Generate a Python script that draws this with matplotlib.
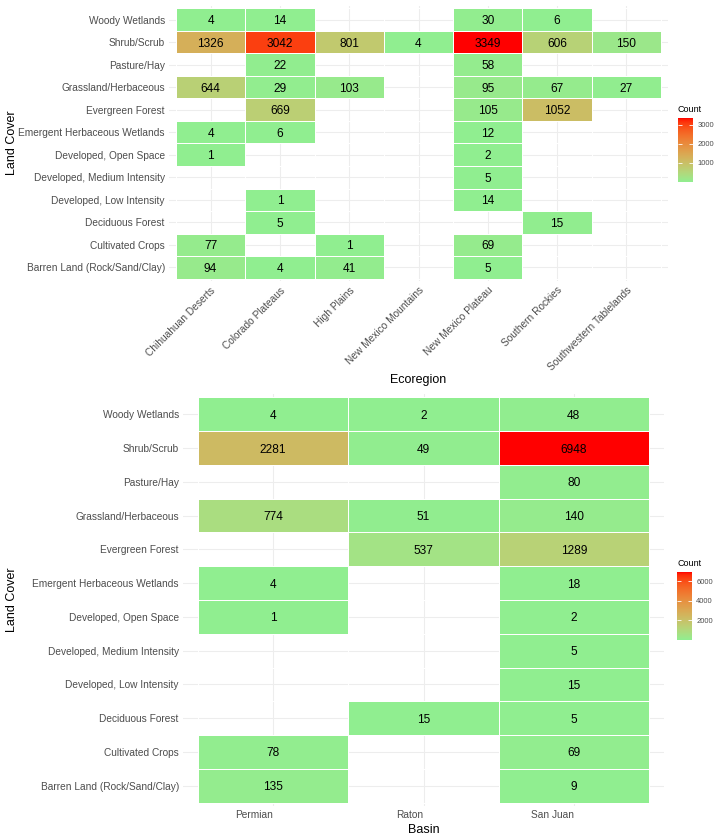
import numpy as np
import matplotlib
matplotlib.use("Agg")
import matplotlib.pyplot as plt
from matplotlib.colors import ListedColormap, Normalize

plt.rcParams['font.family'] = ['Liberation Sans', 'DejaVu Sans']

land_cover = ["Barren Land (Rock/Sand/Clay)", "Cultivated Crops", "Deciduous Forest",
              "Developed, Low Intensity", "Developed, Medium Intensity", "Developed, Open Space",
              "Emergent Herbaceous Wetlands", "Evergreen Forest", "Grassland/Herbaceous",
              "Pasture/Hay", "Shrub/Scrub", "Woody Wetlands"]

ecoregions = ["Chihuahuan Deserts", "Colorado Plateaus", "High Plains", "New Mexico Mountains",
              "New Mexico Plateau", "Southern Rockies", "Southwestern Tablelands"]
# values per ecoregion, ordered as land_cover (None = no tile)
chihuahuan_deserts = [94, 77, None, None, None, 1, 4, None, 644, None, 1326, 4]
colorado_plateaus = [4, None, 5, 1, None, None, 6, 669, 29, 22, 3042, 14]
high_plains = [41, 1, None, None, None, None, None, None, 103, None, 801, None]
new_mexico_mountains = [None, None, None, None, None, None, None, None, None, None, 4, None]
new_mexico_plateau = [5, 69, None, 14, 5, 2, 12, 105, 95, 58, 3349, 30]
southern_rockies = [None, None, 15, None, None, None, None, 1052, 67, None, 606, 6]
southwestern_tablelands = [None, None, None, None, None, None, None, None, 27, None, 150, None]

basins = ["Permian", "Raton", "San Juan"]
permian = [135, 78, None, None, None, 1, 4, None, 774, None, 2281, 4]
raton = [None, None, 15, None, None, None, None, 537, 51, None, 49, 2]
san_juan = [9, 69, 5, 15, 5, 2, 18, 1289, 140, 80, 6948, 48]

eco_cols = [chihuahuan_deserts, colorado_plateaus, high_plains, new_mexico_mountains,
            new_mexico_plateau, southern_rockies, southwestern_tablelands]
basin_cols = [permian, raton, san_juan]


# ---- Lab gradient lightgreen -> red (like ggplot scale_fill_gradient) ----
def srgb_to_lab(rgb):
    rgb = np.asarray(rgb, float)
    lin = np.where(rgb <= 0.04045, rgb / 12.92, ((rgb + 0.055) / 1.055) ** 2.4)
    M = np.array([[0.4124564, 0.3575761, 0.1804375],
                  [0.2126729, 0.7151522, 0.0721750],
                  [0.0193339, 0.1191920, 0.9503041]])
    xyz = M @ lin
    white = np.array([0.95047, 1.0, 1.08883])
    t = xyz / white
    f = np.where(t > (6 / 29) ** 3, np.cbrt(t), t / (3 * (6 / 29) ** 2) + 4 / 29)
    return np.array([116 * f[1] - 16, 500 * (f[0] - f[1]), 200 * (f[1] - f[2])])


def lab_to_srgb(lab):
    L, a, b = lab
    fy = (L + 16) / 116
    fx = fy + a / 500
    fz = fy - b / 200
    d = 6 / 29
    def finv(f):
        return f ** 3 if f > d else 3 * d * d * (f - 4 / 29)
    white = np.array([0.95047, 1.0, 1.08883])
    xyz = np.array([finv(fx), finv(fy), finv(fz)]) * white
    Minv = np.array([[3.2404542, -1.5371385, -0.4985314],
                     [-0.9692660, 1.8760108, 0.0415560],
                     [0.0556434, -0.2040259, 1.0572252]])
    lin = Minv @ xyz
    lin = np.clip(lin, 0, 1)
    rgb = np.where(lin <= 0.0031308, 12.92 * lin, 1.055 * lin ** (1 / 2.4) - 0.055)
    return np.clip(rgb, 0, 1)


low = srgb_to_lab(np.array([0x90, 0xEE, 0x90]) / 255)
high = srgb_to_lab(np.array([0xFF, 0x00, 0x00]) / 255)
cmap = ListedColormap([lab_to_srgb(low + (high - low) * t) for t in np.linspace(0, 1, 256)])

W, H = 719, 840
fig = plt.figure(figsize=(W / 100, H / 100), dpi=100)


def px_axes(x0, y0, x1, y1):
    return fig.add_axes([x0 / W, 1 - y1 / H, (x1 - x0) / W, (y1 - y0) / H])


def draw_panel(ax, cols, xcats, xlabel, rotate):
    ncol, nrow = len(cols), len(land_cover)
    Z = np.array([[np.nan if c[r] is None else c[r] for c in cols] for r in range(nrow)], float)
    Zm = np.ma.masked_invalid(Z)
    vmin, vmax = np.nanmin(Z), np.nanmax(Z)
    norm = Normalize(vmin=vmin, vmax=vmax)
    ax.set_axisbelow(True)
    for i in range(ncol):
        ax.axvline(i, color='#EDEDED', lw=0.8, zorder=0)
    for j in range(nrow):
        ax.axhline(j, color='#EDEDED', lw=0.8, zorder=0)
    mesh = ax.pcolormesh(np.arange(ncol + 1) - 0.5, np.arange(nrow + 1) - 0.5, Zm,
                         cmap=cmap, norm=norm, edgecolors='white', linewidth=0.5, zorder=2)
    for r in range(nrow):
        for c in range(ncol):
            v = cols[c][r]
            if v is not None:
                ax.text(c, r, str(v), ha='center', va='center_baseline', fontsize=8.6,
                        color='black', zorder=3)
    ax.set_xlim(-0.6, ncol - 0.4)
    ax.set_ylim(-0.6, nrow - 0.4)
    for s in ax.spines.values():
        s.set_visible(False)
    ax.set_yticks(range(nrow))
    ax.set_yticklabels(land_cover, fontsize=7.3, color='#4D4D4D')
    ax.set_xticks(range(ncol))
    if rotate:
        ax.set_xticklabels(xcats, fontsize=7.3, color='#4D4D4D', rotation=45,
                           ha='right', va='top', rotation_mode='anchor')
    else:
        ax.set_xticklabels(xcats, fontsize=7.3, color='#4D4D4D', ha='right')
    ax.tick_params(length=0, pad=3)
    ax.set_xlabel(xlabel, fontsize=9, color='black', labelpad=3)
    return mesh, vmin, vmax


def draw_legend(mesh, box, ticks, title_y):
    x0, y0, x1, y1 = box
    cax = px_axes(x0, y0, x1, y1)
    cb = fig.colorbar(mesh, cax=cax)
    cb.outline.set_visible(False)
    cb.set_ticks(ticks)
    cb.set_ticklabels([str(t) for t in ticks])
    cax.tick_params(which='both', direction='in', colors='white', length=3, width=0.6,
                    labelsize=5.5, labelcolor='#4D4D4D', pad=3, left=True, right=True)
    cax.minorticks_off()
    fig.text(x0 / W, 1 - title_y / H, "Count", fontsize=6.5, color='black',
             ha='left', va='center')


ax1 = px_axes(169, 6, 668, 281)
m1, _, _ = draw_panel(ax1, eco_cols, ecoregions, "Ecoregion", True)
ax1.xaxis.labelpad = 1
fig.text(12 / W, 1 - 143 / H, "Land Cover", rotation=90, fontsize=9, color='black',
         ha='center', va='center')
draw_legend(m1, (678, 118, 693, 182), [1000, 2000, 3000], 110)

ax2 = px_axes(183, 394, 664, 806)
m2, _, _ = draw_panel(ax2, basin_cols, basins, "Basin", False)
ax2.xaxis.labelpad = 3
fig.text(12 / W, 1 - 600 / H, "Land Cover", rotation=90, fontsize=9, color='black',
         ha='center', va='center')
draw_legend(m2, (677, 572, 692, 640), [2000, 4000, 6000], 564)

fig.savefig("out.png", dpi=100, facecolor='white')
